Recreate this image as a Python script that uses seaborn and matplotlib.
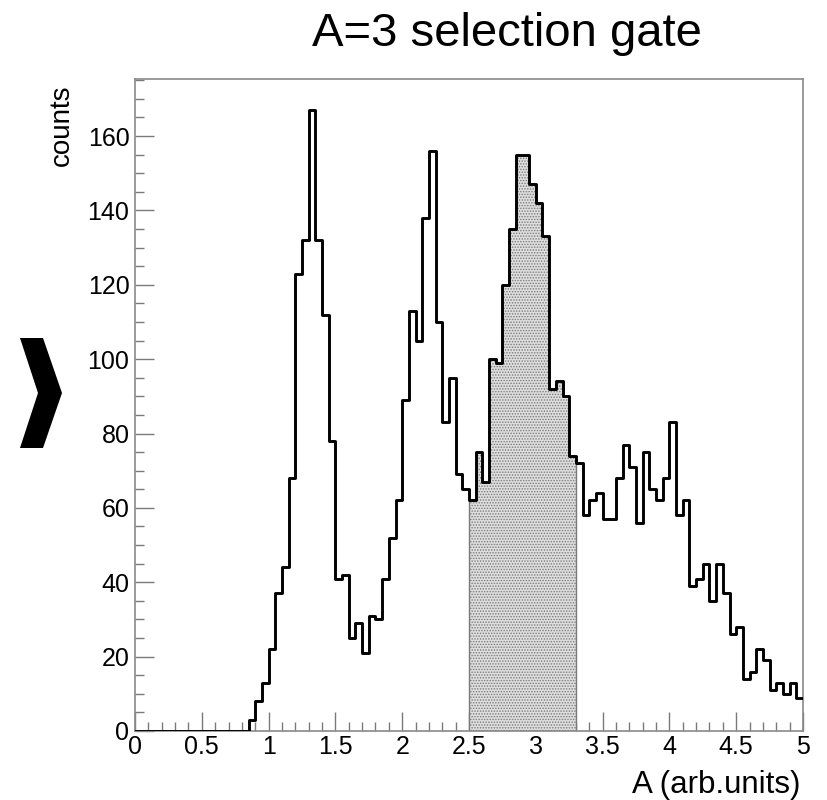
import numpy as np
import pandas as pd
import matplotlib
matplotlib.use("Agg")
import matplotlib.pyplot as plt
from matplotlib.patches import Polygon
from matplotlib.ticker import MultipleLocator
import seaborn as sns

# ---- data ----
bin_lo, bin_hi, n_bins = 0.0, 5.0, 100
counts = [0] * 17 + [
    3, 8, 13, 22, 37, 44, 68, 123, 132, 167,
    132, 112, 78, 41, 42, 25, 29, 21, 31, 30,
    41, 52, 62, 89, 113, 105, 138, 156, 110, 83,
    95, 69, 65, 62, 75, 67, 100, 99, 120, 135,
    155, 155, 147, 142, 133, 92, 94, 90, 74, 72,
    58, 62, 64, 57, 57, 68, 77, 71, 56, 75,
    65, 62, 68, 83, 58, 62, 39, 41, 45, 35,
    45, 37, 26, 28, 14, 16, 22, 19, 11, 13,
    10, 13, 9,
]
gate_lo, gate_hi = 2.5, 3.3
title = "A=3 selection gate"
xlabel = "A (arb.units)"
ylabel = "counts"
xticks = [0, 0.5, 1, 1.5, 2, 2.5, 3, 3.5, 4, 4.5, 5]
xticklabels = ["0", "0.5", "1", "1.5", "2", "2.5", "3", "3.5", "4", "4.5", "5"]
yticks = [0, 20, 40, 60, 80, 100, 120, 140, 160]

edges = np.linspace(bin_lo, bin_hi, n_bins + 1)
centers = (edges[:-1] + edges[1:]) / 2
df = pd.DataFrame({"A": centers, "counts": counts})
gate_mask = (df["A"] > gate_lo) & (df["A"] < gate_hi)
df_gate = df[gate_mask]
gate_edges = [float(e) for e in edges if gate_lo - 1e-9 < e < gate_hi + 1e-9]
all_edges = [float(e) for e in edges]

# ---- style ----
sns.set_style("white")
plt.rcParams["font.family"] = ["Liberation Sans", "DejaVu Sans"]
plt.rcParams["text.color"] = "black"
plt.rcParams["xtick.color"] = "black"
plt.rcParams["ytick.color"] = "black"
plt.rcParams["hatch.color"] = "#6e6e6e"
plt.rcParams["hatch.linewidth"] = 0.7

W, H = 827, 800
fig = plt.figure(figsize=(W / 100, H / 100), dpi=100)
ax = fig.add_axes([135 / W, 1 - 731 / H, (803 - 135) / W, (731 - 79) / H])

# gated region (filled, stippled)
sns.histplot(data=df_gate, x="A", weights="counts", bins=gate_edges,
             element="step", fill=True, color="#dedede", alpha=1.0,
             edgecolor="#7a7a7a", linewidth=1.0, hatch="......", ax=ax,
             zorder=1)

# full histogram outline
sns.histplot(data=df, x="A", weights="counts", bins=all_edges,
             element="step", fill=False, color="black", linewidth=2.1,
             ax=ax, zorder=3)

ymax = max(counts) * 1.05
ax.set_xlim(bin_lo, bin_hi)
ax.set_ylim(0, ymax)
ax.set_xticks(xticks)
ax.set_xticklabels(xticklabels)
ax.set_yticks(yticks)
ax.xaxis.set_minor_locator(MultipleLocator(0.1))
ax.yaxis.set_minor_locator(MultipleLocator(5))
ax.tick_params(which="both", direction="in", color="#7a7a7a", width=1.0,
               bottom=True, left=True, top=False, right=False,
               labelsize=18, labelcolor="black")
ax.tick_params(which="major", length=13.7)
ax.tick_params(which="minor", length=6.5)
ax.tick_params(axis="y", pad=4)
ax.tick_params(axis="x", pad=3)
for s in ax.spines.values():
    s.set_color("#8a8a8a")
    s.set_linewidth(1.2)
ax.set_xlabel("")
ax.set_ylabel("")

fig.text(507 / W, 1 - 46 / H, title, ha="center", va="baseline", fontsize=34)
fig.text(801 / W, 1 - 793 / H, xlabel, ha="right", va="baseline",
         fontsize=22.5)
fig.text(62 / W, 1 - 84 / H, ylabel, ha="center", va="top", rotation=90,
         fontsize=20)

# decorative chevron at the left
pts = np.array([[20, 338], [43, 338], [62, 393], [43, 448], [20, 448], [38, 393]])
fig_pts = np.column_stack([pts[:, 0] / W, 1 - pts[:, 1] / H])
fig.patches.append(Polygon(fig_pts, closed=True, transform=fig.transFigure,
                           facecolor="black", edgecolor="none"))

fig.savefig("out.png", dpi=100)
